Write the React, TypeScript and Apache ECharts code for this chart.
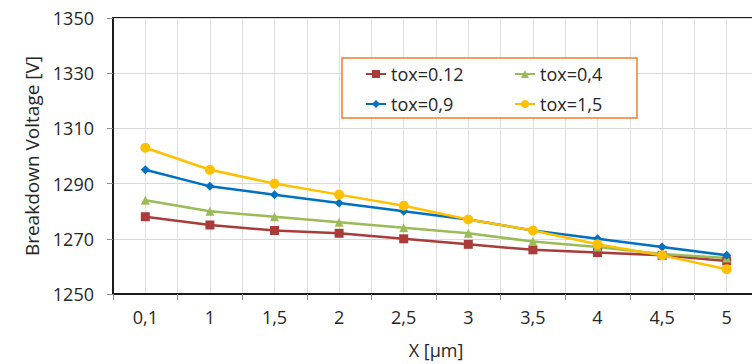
import React, { useEffect, useRef } from "react";
import * as echarts from "echarts";

const categories = ["0,1", "1", "1,5", "2", "2,5", "3", "3,5", "4", "4,5", "5"];
const tox012 = [1278, 1275, 1273, 1272, 1270, 1268, 1266, 1265, 1264, 1262];
const tox04 = [1284, 1280, 1278, 1276, 1274, 1272, 1269, 1267, 1264.5, 1263];
const tox09 = [1295, 1289, 1286, 1283, 1280, 1277, 1273, 1270, 1267, 1264];
const tox15 = [1303, 1295, 1290, 1286, 1282, 1277, 1273, 1268, 1264, 1259];
const yTicks = { min: 1250, max: 1350, interval: 20 };

const FONT = "'Open Sans', 'Noto Sans', sans-serif";

export default function App() {
  const ref = useRef<HTMLDivElement>(null);
  useEffect(() => {
    if (!ref.current) return;
    const chart = echarts.init(ref.current, undefined, { renderer: "svg" });
    const mk = (name: string, data: number[], color: string, symbol: string, size: number) => ({
      name,
      type: "line",
      data,
      symbol,
      symbolSize: size,
      lineStyle: { color, width: 2.5 },
      itemStyle: { color },
      xAxisIndex: 0,
      yAxisIndex: 0,
      z: 5,
    });
    chart.setOption({
      animation: false,
      textStyle: { fontFamily: FONT },
      grid: {
        left: 113,
        right: 8,
        top: 18,
        bottom: 66,
        show: true,
        borderColor: "#1a1a1a",
        borderWidth: 2,
        backgroundColor: "transparent",
      },
      graphic: [
        {
          type: "rect",
          shape: { x: 342, y: 58, width: 295, height: 60 },
          style: { fill: "#fff", stroke: "#ED7D31", lineWidth: 1.5 },
          z: 10,
        },
      ],
      legend: [
        {
          data: ["tox=0.12", "tox=0,9"],
          orient: "vertical",
          left: 365,
          top: 64,
          padding: 0,
          itemGap: 10,
          itemWidth: 20,
          itemHeight: 10,
          textStyle: { fontSize: 18, color: "#262626", fontFamily: FONT, lineHeight: 20 },
          z: 20,
        },
        {
          data: ["tox=0,4", "tox=1,5"],
          orient: "vertical",
          left: 514,
          top: 64,
          padding: 0,
          itemGap: 10,
          itemWidth: 20,
          itemHeight: 10,
          textStyle: { fontSize: 18, color: "#262626", fontFamily: FONT, lineHeight: 20 },
          z: 20,
        },
      ],
      xAxis: [
        {
          type: "category",
          data: categories,
          boundaryGap: true,
          name: "X [µm]",
          nameLocation: "middle",
          nameGap: 47,
          nameTextStyle: { fontSize: 18, color: "#262626", fontFamily: FONT },
          axisLine: { show: true, lineStyle: { color: "#1a1a1a", width: 2 } },
          axisTick: { show: true, length: 6, lineStyle: { color: "#8c8c8c" } },
          axisLabel: { fontSize: 18, color: "#262626", margin: 14, fontFamily: FONT },
          splitLine: { show: true, lineStyle: { color: "#d9d9d9", width: 1 } },
        },
        {
          type: "value",
          min: 0,
          max: categories.length * 2,
          interval: 1,
          show: true,
          axisLine: { show: false },
          axisTick: { show: false },
          axisLabel: { show: false },
          splitLine: { show: true, lineStyle: { color: "#e0e0e0", width: 1 } },
        },
      ],
      yAxis: {
        type: "value",
        min: yTicks.min,
        max: yTicks.max,
        interval: yTicks.interval,
        name: "Breakdown Voltage [V]",
        nameLocation: "middle",
        nameGap: 72,
        nameTextStyle: { fontSize: 19, color: "#262626", fontFamily: FONT },
        axisLine: { show: true, lineStyle: { color: "#1a1a1a", width: 2 } },
        axisTick: { show: true, length: 6, lineStyle: { color: "#8c8c8c" } },
        axisLabel: {
          fontSize: 18,
          color: "#262626",
          margin: 19,
          fontFamily: FONT,
          formatter: (v: number) => String(v),
        },
        splitLine: { show: true, lineStyle: { color: "#d9d9d9", width: 1 } },
      },
      series: [
        mk("tox=0.12", tox012, "#A93B3B", "rect", 9),
        mk("tox=0,4", tox04, "#9BBB59", "triangle", 9),
        mk("tox=0,9", tox09, "#0070C0", "diamond", 9),
        mk("tox=1,5", tox15, "#FFC000", "circle", 10),
      ],
    });
    return () => chart.dispose();
  }, []);
  return (
    <div
      style={{
        position: "absolute",
        left: 0,
        top: 0,
        width: 752,
        height: 364,
        overflow: "hidden",
        background: "#fff",
      }}
    >
      <div ref={ref} style={{ width: 767, height: 364 }} />
    </div>
  );
}
